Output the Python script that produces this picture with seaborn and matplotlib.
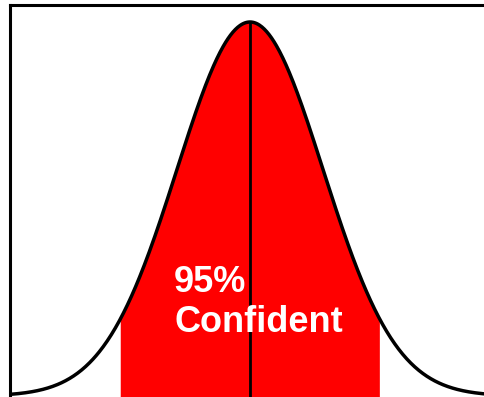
import numpy as np
import pandas as pd
import matplotlib
matplotlib.use("Agg")
import matplotlib.pyplot as plt
import seaborn as sns

# Normal curve parameters and the shaded 95% interval
mean = 0.0
sd = 1.1
ci_bounds = [-1.96, 1.96]
label_lines = ["95%", "Confident"]

sns.set_style("white")
plt.rcParams['font.family'] = ['Liberation Sans', 'DejaVu Sans']

x_lo, x_hi = -3.62, 3.65
x = np.linspace(x_lo, x_hi, 600)
pdf = np.exp(-0.5 * ((x - mean) / sd) ** 2) / (sd * np.sqrt(2 * np.pi))
df = pd.DataFrame({'x': x, 'density': pdf})
peak = pdf.max()

fig = plt.figure(figsize=(4.85, 3.97), dpi=100)
ax = fig.add_axes([10 / 485, 0, 482 / 485, 392 / 397])

y_lo = -peak / 374
y_hi = peak * 391 / 374

# red area inside the interval
inside = df[(df['x'] >= ci_bounds[0]) & (df['x'] <= ci_bounds[1])]
ax.fill_between(inside['x'], y_lo, inside['density'], color='#ff0000', linewidth=0, zorder=1)

# centre line at the mean
ax.vlines(mean, y_lo, peak, color='black', linewidth=2, zorder=2)

sns.lineplot(data=df, x='x', y='density', color='black', linewidth=2.5, ax=ax, zorder=3)

ax.text(-1.146, peak * 104 / 374, label_lines[0], color='white', fontsize=26,
        fontweight='bold', ha='left', va='baseline', zorder=4)
ax.text(-1.146, peak * 64 / 374, label_lines[1], color='white', fontsize=26,
        fontweight='bold', ha='left', va='baseline', zorder=4)

ax.set_xlim(x_lo, x_hi)
ax.set_ylim(y_lo, y_hi)
ax.set_xticks([])
ax.set_yticks([])
ax.set_xlabel('')
ax.set_ylabel('')
for side in ['left', 'top']:
    ax.spines[side].set_color('black')
    ax.spines[side].set_linewidth(2.2)
ax.spines['right'].set_visible(False)
ax.spines['bottom'].set_visible(False)

fig.savefig('out.png', dpi=100)
